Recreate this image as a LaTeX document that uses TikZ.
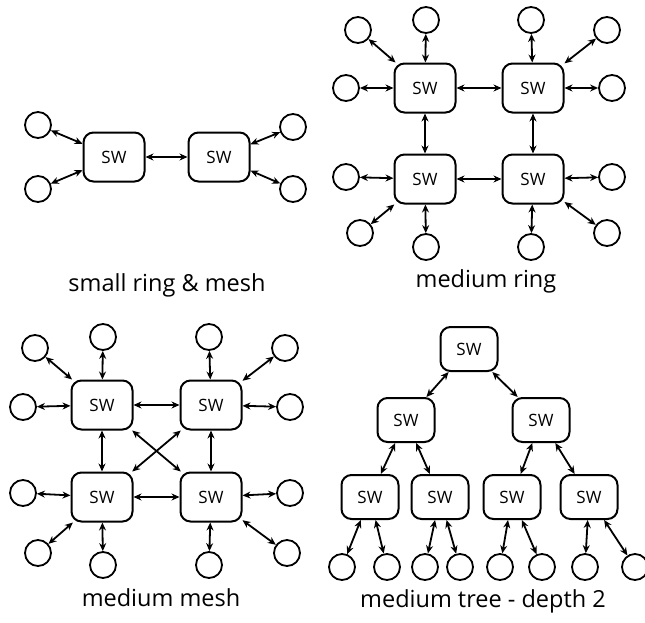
\documentclass[tikz,border=0pt]{standalone}
\usepackage{fontspec}
\setmainfont{Open Sans}
\usepackage{tikz}
\usetikzlibrary{arrows.meta}
\newcommand{\sw}[3][]{\node(#2)[switch,#1] at (#3) {SW}}
\newcommand{\host}[2]{\node(#1)[host] at (#2) {}}

\begin{document}
\begin{tikzpicture}[
        x=1pt, y=-1pt,
        >={Stealth[length=8pt,width=7pt]},
        switch/.style={rectangle,minimum width=61pt,minimum height=49pt,
                       rounded corners=10pt,line width=2pt,draw=black,
                       font=\fontsize{17}{17}\selectfont},
        small/.style={minimum width=57pt,minimum height=44pt},
        host/.style={circle,minimum size=26pt,inner sep=0pt,line width=1.8pt,draw=black},
        link/.style={<->,line width=1.8pt},
        caption/.style={anchor=base,font=\fontsize{23.5}{23.5}\selectfont}
      ]
      \useasboundingbox (0,0) rectangle (645,622);

      % small ring & mesh
      \sw{s1}{114,157}; \sw{s2}{219,157};
      \host{a1}{38,125}; \host{a2}{38,189};
      \host{a3}{293,127}; \host{a4}{293,189};
      \draw[link] (s1) -- (s2);
      \draw[link] (a1) -- (s1); \draw[link] (a2) -- (s1);
      \draw[link] (a3) -- (s2); \draw[link] (a4) -- (s2);
      \node[caption] (capsmall) at (167,291) {small ring \& mesh};

      % medium ring
      \sw{r1}{425,88}; \sw{r2}{533,88};
      \sw{r3}{425,179}; \sw{r4}{533,179};
      \host{b1}{426,20}; \host{b2}{358,30}; \host{b3}{346,88};
      \host{b4}{531,20}; \host{b5}{607,30}; \host{b6}{612,88};
      \host{b7}{346,177}; \host{b8}{360,233}; \host{b9}{426,247};
      \host{b10}{612,177}; \host{b11}{607,233}; \host{b12}{531,247};
      \draw[link] (r1) -- (r2); \draw[link] (r3) -- (r4);
      \draw[link] (r1) -- (r3); \draw[link] (r2) -- (r4);
      \foreach \h in {b1,b2,b3} {\draw[link] (\h) -- (r1);}
      \foreach \h in {b4,b5,b6} {\draw[link] (\h) -- (r2);}
      \foreach \h in {b7,b8,b9} {\draw[link] (\h) -- (r3);}
      \foreach \h in {b10,b11,b12} {\draw[link] (\h) -- (r4);}
      \node[caption] (capring) at (486,287) {medium ring};

      % medium mesh
      \sw{m1}{102,405}; \sw{m2}{211,405};
      \sw{m3}{102,497}; \sw{m4}{211,497};
      \host{c1}{103,337}; \host{c2}{35,348}; \host{c3}{23,407};
      \host{c4}{209,337}; \host{c5}{285,348}; \host{c6}{290,407};
      \host{c7}{23,493}; \host{c8}{38,553}; \host{c9}{103,565};
      \host{c10}{290,493}; \host{c11}{287,553}; \host{c12}{209,565};
      \draw[link] (m1) -- (m2); \draw[link] (m3) -- (m4);
      \draw[link] (m1) -- (m3); \draw[link] (m2) -- (m4);
      \draw[link] (m1) -- (m4); \draw[link] (m2) -- (m3);
      \foreach \h in {c1,c2,c3} {\draw[link] (\h) -- (m1);}
      \foreach \h in {c4,c5,c6} {\draw[link] (\h) -- (m2);}
      \foreach \h in {c7,c8,c9} {\draw[link] (\h) -- (m3);}
      \foreach \h in {c10,c11,c12} {\draw[link] (\h) -- (m4);}
      \node[caption] (capmesh) at (161,606) {medium mesh};

      % medium tree - depth 2
      \sw[small]{t0}{469,349};
      \sw[small]{t1}{406,420}; \sw[small]{t2}{541,420};
      \sw[small]{t3}{370,497}; \sw[small]{t4}{440,497};
      \sw[small]{t5}{512,497}; \sw[small]{t6}{589,497};
      \host{d1}{342,567}; \host{d2}{387,567};
      \host{d3}{425,567}; \host{d4}{460,567};
      \host{d5}{500,567}; \host{d6}{542,567};
      \host{d7}{585,567}; \host{d8}{635,567};
      \draw[link] (t0) -- (t1); \draw[link] (t0) -- (t2);
      \draw[link] (t1) -- (t3); \draw[link] (t1) -- (t4);
      \draw[link] (t2) -- (t5); \draw[link] (t2) -- (t6);
      \draw[link] (t3) -- (d1); \draw[link] (t3) -- (d2);
      \draw[link] (t4) -- (d3); \draw[link] (t4) -- (d4);
      \draw[link] (t5) -- (d5); \draw[link] (t5) -- (d6);
      \draw[link] (t6) -- (d7); \draw[link] (t6) -- (d8);
      \node[caption] (captree) at (483,607) {medium tree - depth 2};

    \end{tikzpicture}
\end{document}
